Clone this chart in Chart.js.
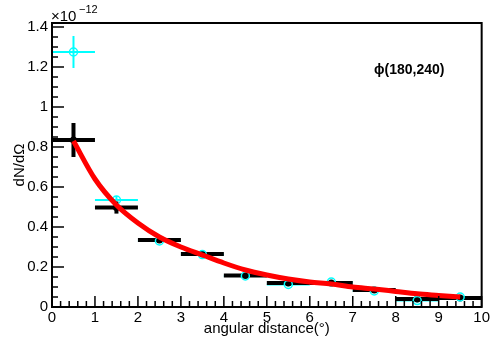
<!DOCTYPE html>
<html>
<head>
<meta charset="utf-8">
<script src="https://cdn.jsdelivr.net/npm/chart.js@4"></script>
<style>
  body { margin: 0; background: #fff; }
  #wrap { width: 492px; height: 342px; }
</style>
</head>
<body>
<div id="wrap"><canvas id="chart" width="492" height="342"></canvas></div>
<script>
// values in units of 1e-12
const binCenters = [0.5, 1.5, 2.5, 3.5, 4.5, 5.5, 6.5, 7.5, 8.5, 9.5];
const binHalfWidth = [0.5, 0.5, 0.5, 0.5, 0.5, 0.5, 0.5, 0.5, 0.5, 0.5];
const blackY = [0.835, 0.497, 0.335, 0.265, 0.157, 0.12, 0.12, 0.085, 0.04, 0.045];
const blackYErr = [0.085, 0.03, 0.015, 0.01, 0.01, 0.01, 0.01, 0.01, 0.01, 0.01];
const cyanY = [1.275, 0.535, 0.33, 0.262, 0.155, 0.113, 0.125, 0.08, 0.032, 0.05];
const cyanYErr = [0.08, 0.02, 0.01, 0.01, 0.01, 0.01, 0.01, 0.01, 0.01, 0.01];
const fitX = [0.5, 1, 1.5, 2, 2.5, 3, 3.5, 4, 4.5, 5, 5.5, 6, 6.5, 7, 7.5, 8, 8.5, 9, 9.5];
const fitY = [0.83, 0.64, 0.51, 0.42, 0.35, 0.30, 0.26, 0.22, 0.185, 0.16, 0.14, 0.125, 0.115, 0.10, 0.09, 0.078, 0.066, 0.058, 0.05];
const xTicks = [0, 1, 2, 3, 4, 5, 6, 7, 8, 9, 10];
const yTicks = [0, 0.2, 0.4, 0.6, 0.8, 1.0, 1.2, 1.4];
const yMax = 1.42;
const exponentLabel = "\u221212";
const panelLabel = "\u03d5(180,240)";

const FONT = "'Liberation Sans', Arial, sans-serif";

function pts(xs, ys) {
    return xs.map((x, i) => ({ x: x, y: ys[i] }));
}

// error bars, drawn under the markers
const errorBars = {
    id: "errorBars",
    beforeDatasetsDraw(chart) {
        const ctx = chart.ctx;
        const xs = chart.scales.x, ys = chart.scales.y;
        const draw = (vals, errs, color, hw, vw) => {
            ctx.save();
            ctx.strokeStyle = color;
            binCenters.forEach((c, i) => {
                const py = ys.getPixelForValue(vals[i]);
                const px = xs.getPixelForValue(c);
                ctx.lineWidth = hw;
                ctx.beginPath();
                ctx.moveTo(xs.getPixelForValue(c - binHalfWidth[i]), py);
                ctx.lineTo(xs.getPixelForValue(c + binHalfWidth[i]), py);
                ctx.stroke();
                ctx.lineWidth = vw;
                ctx.beginPath();
                ctx.moveTo(px, ys.getPixelForValue(vals[i] - errs[i]));
                ctx.lineTo(px, ys.getPixelForValue(vals[i] + errs[i]));
                ctx.stroke();
            });
            ctx.restore();
        };
        draw(cyanY, cyanYErr, "#00ffff", 2, 2);
        draw(blackY, blackYErr, "#000", 4, 4);
    }
};

// ROOT style frame, inward ticks and extra labels
const frame = {
    id: "frame",
    afterDraw(chart) {
        const ctx = chart.ctx;
        const a = chart.chartArea;
        const xs = chart.scales.x, ys = chart.scales.y;
        ctx.save();
        ctx.strokeStyle = "#000";
        ctx.lineWidth = 2;
        ctx.strokeRect(a.left, a.top, a.right - a.left, a.bottom - a.top);
        ctx.lineWidth = 1.5;
        ctx.beginPath();
        for (let i = 0; i <= 50; i++) {
            const v = i * 0.2;
            const px = xs.getPixelForValue(v);
            const len = i % 5 === 0 ? 11 : 6;
            ctx.moveTo(px, a.bottom);
            ctx.lineTo(px, a.bottom - len);
        }
        for (let i = 0; i <= 28; i++) {
            const v = i * 0.05;
            const py = ys.getPixelForValue(v);
            const len = i % 4 === 0 ? 12 : 6;
            ctx.moveTo(a.left, py);
            ctx.lineTo(a.left + len, py);
        }
        ctx.stroke();

        ctx.fillStyle = "#000";
        ctx.textBaseline = "alphabetic";
        ctx.textAlign = "left";
        ctx.font = "15px " + FONT;
        ctx.fillText("\u00d710", 51, 21);
        ctx.font = "11px " + FONT;
        ctx.fillText(exponentLabel, 79, 13);

        ctx.font = "bold 14px " + FONT;
        ctx.textBaseline = "middle";
        ctx.fillText(panelLabel, 374, 70);
        ctx.restore();
    }
};

new Chart(document.getElementById("chart"), {
    type: "scatter",
    data: {
        datasets: [
            {
                type: "line",
                data: pts(fitX, fitY),
                borderColor: "#ff0000",
                borderWidth: 5,
                pointRadius: 0,
                cubicInterpolationMode: "monotone",
                fill: false
            },
            {
                data: pts(binCenters, cyanY),
                pointStyle: "circle",
                pointRadius: 4,
                pointBorderWidth: 1.5,
                pointBorderColor: "#00ffff",
                pointBackgroundColor: "rgba(255,255,255,0)"
            },
            {
                data: pts(binCenters, blackY),
                pointStyle: "circle",
                pointRadius: 3.5,
                pointBorderWidth: 0,
                pointBackgroundColor: "#000"
            }
        ]
    },
    options: {
        responsive: false,
        animation: false,
        events: [],
        layout: { padding: { top: 23, right: 10, left: 0, bottom: 0 } },
        plugins: { legend: { display: false }, tooltip: { enabled: false } },
        scales: {
            x: {
                type: "linear",
                min: 0,
                max: 10,
                afterBuildTicks: s => { s.ticks = xTicks.map(v => ({ value: v })); },
                afterFit: s => { s.height = 35; },
                grid: { display: false, drawTicks: false },
                border: { display: false },
                ticks: {
                    padding: 2,
                    color: "#000",
                    font: { family: FONT, size: 15 },
                    maxRotation: 0,
                    callback: v => String(v)
                },
                title: {
                    display: true,
                    text: "angular distance(\u00b0)",
                    color: "#000",
                    font: { family: FONT, size: 15 },
                    padding: { top: 0, bottom: 4 }
                }
            },
            y: {
                type: "linear",
                min: 0,
                max: yMax,
                afterBuildTicks: s => { s.ticks = yTicks.map(v => ({ value: v })); },
                afterFit: s => { s.width = 52; },
                grid: { display: false, drawTicks: false },
                border: { display: false },
                ticks: {
                    padding: 4,
                    color: "#000",
                    font: { family: FONT, size: 15 },
                    callback: v => String(+v.toFixed(2))
                },
                title: {
                    display: true,
                    text: "dN/d\u03a9",
                    color: "#000",
                    font: { family: FONT, size: 15 },
                    padding: { top: 11, bottom: 0 }
                }
            }
        }
    },
    plugins: [errorBars, frame]
});
</script>
</body>
</html>
